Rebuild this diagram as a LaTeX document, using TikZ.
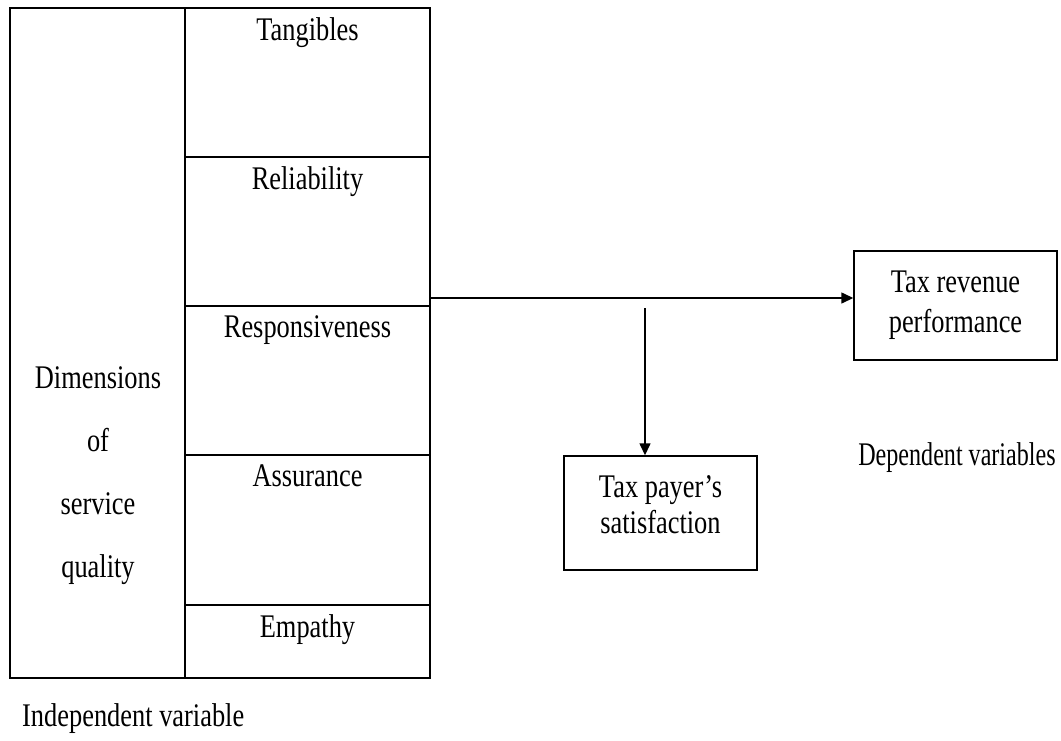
\documentclass[tikz,border=0pt]{standalone}
\usepackage{fontspec}
\setmainfont{Liberation Serif}[FakeStretch=0.8]
\newfontfamily\narrowfont{Liberation Serif}[FakeStretch=0.73]
\usetikzlibrary{arrows.meta,positioning}

\begin{document}
\begin{tikzpicture}[
  x=1pt, y=-1pt,
  font=\fontsize{33}{38}\selectfont,
  node distance=2pt,
  cell/.style={rectangle, draw, line width=1.4pt, minimum width=245pt, inner sep=0pt},
  outbox/.style={rectangle, draw, line width=1.4pt, align=center, inner sep=0pt},
  txt/.style={inner sep=0pt, align=center},
  arrow/.style={-{Triangle[length=12pt,width=11pt]}, line width=1.4pt}
]
  \useasboundingbox (0,0) rectangle (1061,740);

  % table of dimensions
  \node[cell, minimum width=175pt, minimum height=670pt] (dims) at (97.5,343) {};
  \node[cell, minimum height=149pt] (tang) at (307.5,82.5) {};
  \node[cell, minimum height=149pt] (rel)  at (307.5,231.5) {};
  \node[cell, minimum height=149pt] (resp) at (307.5,380.5) {};
  \node[cell, minimum height=150pt] (assu) at (307.5,530) {};
  \node[cell, minimum height=73pt]  (emp)  at (307.5,641.5) {};

  \node[txt, anchor=north, below=10pt of tang.north] (ttang) {Tangibles};
  \node[txt, anchor=north, below=10pt of rel.north]  (trel)  {Reliability};
  \node[txt, anchor=north, below=10pt of resp.north] (tresp) {Responsiveness};
  \node[txt, anchor=north, below=10pt of assu.north] (tassu) {Assurance};
  \node[txt, anchor=north, below=10pt of emp.north]  (temp)  {Empathy};

  \node[txt, font=\fontsize{33}{63}\selectfont] (tdims) at (98,476)
    {Dimensions\\of\\service\\quality};

  % dependent variables
  \node[outbox, minimum width=203pt, minimum height=109pt,
        font=\fontsize{33}{40}\selectfont] (rev) at (955.5,305.5)
    {Tax revenue\\performance};
  \node[outbox, minimum width=193pt, minimum height=114pt] (sat) at (660.5,513) {};
  \node[txt, font=\fontsize{33}{36}\selectfont] (tsat) at (660.5,505)
    {Tax payer's\\satisfaction};

  \coordinate (fork) at (430,298);
  \coordinate (drop) at (645,308);
  \draw[arrow] (fork) -- (fork -| rev.west);
  \draw[arrow] (drop) -- (drop |- sat.north);

  \node[txt, font=\narrowfont\fontsize{33}{38}\selectfont] (dep) at (957,458)
    {Dependent variables};
  \node[txt, anchor=west] (indep) at (22,719) {Independent variable};
\end{tikzpicture}
\end{document}
